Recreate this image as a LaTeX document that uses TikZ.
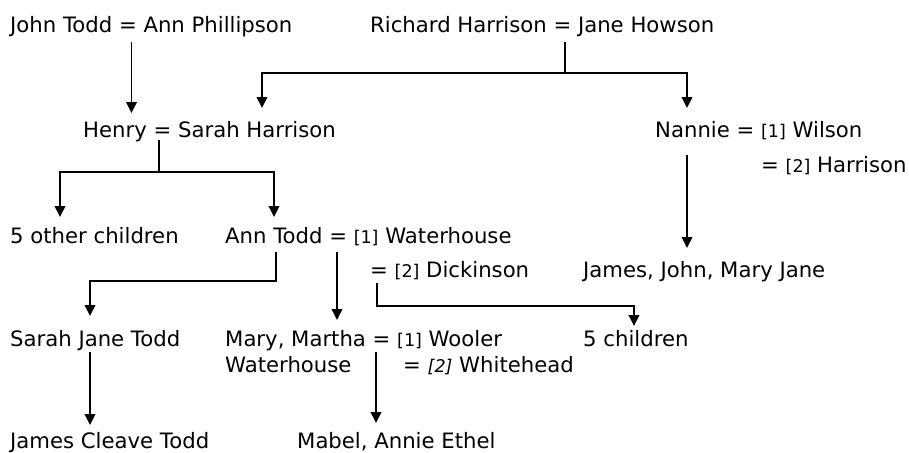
\documentclass[tikz,border=0pt]{standalone}
\usepackage{fontspec}
\setmainfont{DejaVu Sans}
\usetikzlibrary{arrows.meta}
\newcommand{\nb}[1]{{\fontsize{17.5}{20}\selectfont[#1]}}
\newcommand{\nbi}[1]{{\fontsize{17.5}{20}\selectfont\itshape[#1]}}
\tikzset{
  lbl/.style={inner sep=0pt, anchor=base west, font=\fontsize{21.2}{24}\selectfont},
  conn/.style={line width=1.9pt, line cap=butt},
  arr/.style={conn, -{Triangle[width=10.5pt,length=11pt]}}
}
\begin{document}
\begin{tikzpicture}[x=1pt,y=-1pt]
\useasboundingbox[fill=white] (0,0) rectangle (909,452);
% row 1
\node[lbl] (jt) at (10,33) {John Todd = Ann Phillipson};
\node[lbl] (rh) at (370,33) {Richard Harrison = Jane Howson};
% row 2
\node[lbl] (hs) at (83,137) {Henry = Sarah Harrison};
\node[lbl] (nw) at (655,137) {Nannie = \nb{1} Wilson};
\node[lbl] (nh) at (761,172) {= \nb{2} Harrison};
% row 3
\node[lbl] (oc) at (10,243) {5 other children};
\node[lbl] (at) at (225,243) {Ann Todd = \nb{1} Waterhouse};
\node[lbl] (ad) at (370,277) {= \nb{2} Dickinson};
\node[lbl] (jj) at (583,277) {James, John, Mary Jane};
% row 5
\node[lbl] (sj) at (10,346) {Sarah Jane Todd};
\node[lbl] (mm) at (225,346) {Mary, Martha = \nb{1} Wooler};
\node[lbl] (mw) at (225,372) {Waterhouse};
\node[lbl] (wh) at (403,372) {= \nbi{2} Whitehead};
\node[lbl] (fc) at (583,346) {5 children};
% row 7
\node[lbl] (jc) at (10,448) {James Cleave Todd};
\node[lbl] (ma) at (297,448) {Mabel, Annie Ethel};

% connector points
\coordinate (jtE) at (131.5,42);
\coordinate (hsT) at (131.5,113);
\coordinate (rhE) at (565,42);
\coordinate (rhJ) at (565,73);
\coordinate (hsT2) at (262,108);
\coordinate (nwT) at (687,108);
\coordinate (hsE) at (159,140);
\coordinate (hsJ) at (159,172);
\coordinate (ocT) at (60,217);
\coordinate (atT) at (274,217);
\coordinate (nwE) at (687,155);
\coordinate (jjT) at (687,248);
\coordinate (atE) at (276,252);
\coordinate (atJ) at (276,281);
\coordinate (sjT) at (90,316);
\coordinate (atE2) at (337,252);
\coordinate (mmT) at (337,320);
\coordinate (adE) at (377,283);
\coordinate (adJ) at (377,306);
\coordinate (fcT) at (634,326);
\coordinate (sjE) at (90,352);
\coordinate (jcT) at (90,425);
\coordinate (mmE) at (376,352);
\coordinate (maT) at (376,423);

\draw[arr] (jtE) -- (hsT);
\draw[conn] (rhE) -- (rhJ);
\draw[arr] (rhJ) -| (hsT2);
\draw[arr] (rhJ) -| (nwT);
\draw[conn] (hsE) -- (hsJ);
\draw[arr] (hsJ) -| (ocT);
\draw[arr] (hsJ) -| (atT);
\draw[arr] (nwE) -- (jjT);
\draw[arr] (atE) -- (atJ) -| (sjT);
\draw[arr] (atE2) -- (mmT);
\draw[arr] (adE) -- (adJ) -| (fcT);
\draw[arr] (sjE) -- (jcT);
\draw[arr] (mmE) -- (maT);
\end{tikzpicture}
\end{document}
